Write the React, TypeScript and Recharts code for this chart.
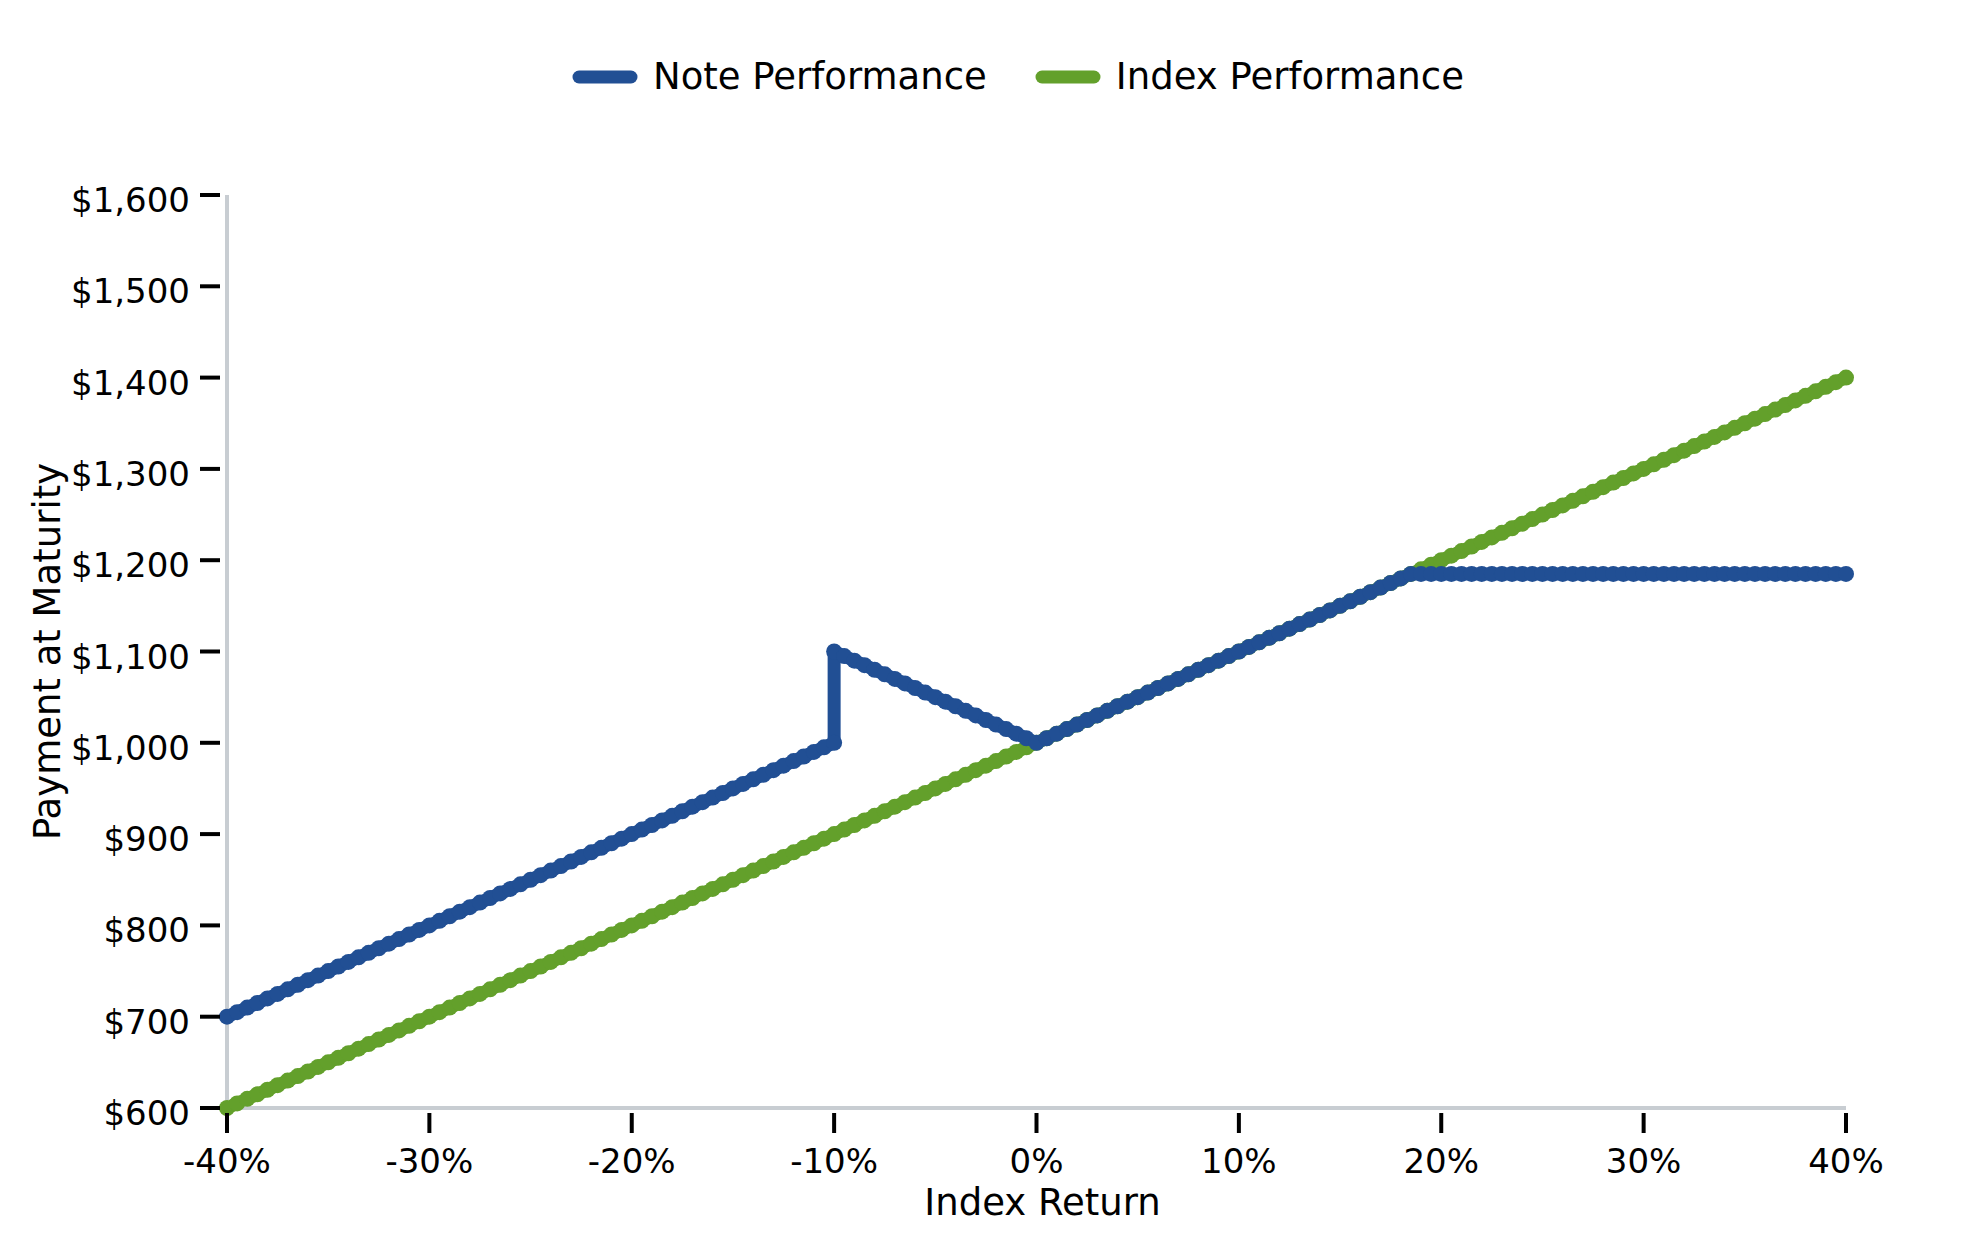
import { LineChart, Line, XAxis, YAxis, Legend, Label } from "recharts";

const FONT = "'DejaVu Sans', sans-serif";
const NOTE_COLOR = "#214f94";
const INDEX_COLOR = "#63a02b";
const AXIS_COLOR = "#c8cdd2";

// index return (%) grid shared by the index line
const returns = [
  -40, -39.5, -39, -38.5, -38, -37.5, -37, -36.5, -36, -35.5,
  -35, -34.5, -34, -33.5, -33, -32.5, -32, -31.5, -31, -30.5,
  -30, -29.5, -29, -28.5, -28, -27.5, -27, -26.5, -26, -25.5,
  -25, -24.5, -24, -23.5, -23, -22.5, -22, -21.5, -21, -20.5,
  -20, -19.5, -19, -18.5, -18, -17.5, -17, -16.5, -16, -15.5,
  -15, -14.5, -14, -13.5, -13, -12.5, -12, -11.5, -11, -10.5,
  -10, -9.5, -9, -8.5, -8, -7.5, -7, -6.5, -6, -5.5,
  -5, -4.5, -4, -3.5, -3, -2.5, -2, -1.5, -1, -0.5,
  0, 0.5, 1, 1.5, 2, 2.5, 3, 3.5, 4, 4.5,
  5, 5.5, 6, 6.5, 7, 7.5, 8, 8.5, 9, 9.5,
  10, 10.5, 11, 11.5, 12, 12.5, 13, 13.5, 14, 14.5,
  15, 15.5, 16, 16.5, 17, 17.5, 18, 18.5, 19, 19.5,
  20, 20.5, 21, 21.5, 22, 22.5, 23, 23.5, 24, 24.5,
  25, 25.5, 26, 26.5, 27, 27.5, 28, 28.5, 29, 29.5,
  30, 30.5, 31, 31.5, 32, 32.5, 33, 33.5, 34, 34.5,
  35, 35.5, 36, 36.5, 37, 37.5, 38, 38.5, 39, 39.5,
  40,
];

const indexValues = [
  600, 605, 610, 615, 620, 625, 630, 635, 640, 645,
  650, 655, 660, 665, 670, 675, 680, 685, 690, 695,
  700, 705, 710, 715, 720, 725, 730, 735, 740, 745,
  750, 755, 760, 765, 770, 775, 780, 785, 790, 795,
  800, 805, 810, 815, 820, 825, 830, 835, 840, 845,
  850, 855, 860, 865, 870, 875, 880, 885, 890, 895,
  900, 905, 910, 915, 920, 925, 930, 935, 940, 945,
  950, 955, 960, 965, 970, 975, 980, 985, 990, 995,
  1000, 1005, 1010, 1015, 1020, 1025, 1030, 1035, 1040, 1045,
  1050, 1055, 1060, 1065, 1070, 1075, 1080, 1085, 1090, 1095,
  1100, 1105, 1110, 1115, 1120, 1125, 1130, 1135, 1140, 1145,
  1150, 1155, 1160, 1165, 1170, 1175, 1180, 1185, 1190, 1195,
  1200, 1205, 1210, 1215, 1220, 1225, 1230, 1235, 1240, 1245,
  1250, 1255, 1260, 1265, 1270, 1275, 1280, 1285, 1290, 1295,
  1300, 1305, 1310, 1315, 1320, 1325, 1330, 1335, 1340, 1345,
  1350, 1355, 1360, 1365, 1370, 1375, 1380, 1385, 1390, 1395,
  1400,
];

// the note has two points at -10% (the jump)
const noteReturns = [
  -40, -39.5, -39, -38.5, -38, -37.5, -37, -36.5, -36, -35.5,
  -35, -34.5, -34, -33.5, -33, -32.5, -32, -31.5, -31, -30.5,
  -30, -29.5, -29, -28.5, -28, -27.5, -27, -26.5, -26, -25.5,
  -25, -24.5, -24, -23.5, -23, -22.5, -22, -21.5, -21, -20.5,
  -20, -19.5, -19, -18.5, -18, -17.5, -17, -16.5, -16, -15.5,
  -15, -14.5, -14, -13.5, -13, -12.5, -12, -11.5, -11, -10.5,
  -10, -10, -9.5, -9, -8.5, -8, -7.5, -7, -6.5, -6, -5.5,
  -5, -4.5, -4, -3.5, -3, -2.5, -2, -1.5, -1, -0.5,
  0, 0.5, 1, 1.5, 2, 2.5, 3, 3.5, 4, 4.5,
  5, 5.5, 6, 6.5, 7, 7.5, 8, 8.5, 9, 9.5,
  10, 10.5, 11, 11.5, 12, 12.5, 13, 13.5, 14, 14.5,
  15, 15.5, 16, 16.5, 17, 17.5, 18, 18.5, 19, 19.5,
  20, 20.5, 21, 21.5, 22, 22.5, 23, 23.5, 24, 24.5,
  25, 25.5, 26, 26.5, 27, 27.5, 28, 28.5, 29, 29.5,
  30, 30.5, 31, 31.5, 32, 32.5, 33, 33.5, 34, 34.5,
  35, 35.5, 36, 36.5, 37, 37.5, 38, 38.5, 39, 39.5,
  40,
];

const noteValues = [
  700, 705, 710, 715, 720, 725, 730, 735, 740, 745,
  750, 755, 760, 765, 770, 775, 780, 785, 790, 795,
  800, 805, 810, 815, 820, 825, 830, 835, 840, 845,
  850, 855, 860, 865, 870, 875, 880, 885, 890, 895,
  900, 905, 910, 915, 920, 925, 930, 935, 940, 945,
  950, 955, 960, 965, 970, 975, 980, 985, 990, 995,
  1000, 1100, 1095, 1090, 1085, 1080, 1075, 1070, 1065, 1060, 1055,
  1050, 1045, 1040, 1035, 1030, 1025, 1020, 1015, 1010, 1005,
  1000, 1005, 1010, 1015, 1020, 1025, 1030, 1035, 1040, 1045,
  1050, 1055, 1060, 1065, 1070, 1075, 1080, 1085, 1090, 1095,
  1100, 1105, 1110, 1115, 1120, 1125, 1130, 1135, 1140, 1145,
  1150, 1155, 1160, 1165, 1170, 1175, 1180, 1185, 1185, 1185,
  1185, 1185, 1185, 1185, 1185, 1185, 1185, 1185, 1185, 1185,
  1185, 1185, 1185, 1185, 1185, 1185, 1185, 1185, 1185, 1185,
  1185, 1185, 1185, 1185, 1185, 1185, 1185, 1185, 1185, 1185,
  1185, 1185, 1185, 1185, 1185, 1185, 1185, 1185, 1185, 1185,
  1185,
];

const xTicks = [-40, -30, -20, -10, 0, 10, 20, 30, 40];
const yTicks = [600, 700, 800, 900, 1000, 1100, 1200, 1300, 1400, 1500, 1600];

const indexData = returns.map((r, i) => ({ ret: r, value: indexValues[i] }));
const noteData = noteReturns.map((r, i) => ({ ret: r, value: noteValues[i] }));

const legendItems = [
  { name: "Note Performance", color: NOTE_COLOR },
  { name: "Index Performance", color: INDEX_COLOR },
];

function formatDollar(v: number): string {
  if (v >= 1000) {
    return `$${Math.floor(v / 1000)},${String(v % 1000).padStart(3, "0")}`;
  }
  return `$${v}`;
}

function YTick({ x, y, payload }: any) {
  return (
    <g>
      <line x1={x - 27} x2={x - 7} y1={y} y2={y} stroke="#000" strokeWidth={4} />
      <text x={x - 37} y={y} dy={17} textAnchor="end" fontSize={34} fontFamily={FONT} fill="#000">
        {formatDollar(payload.value)}
      </text>
    </g>
  );
}

function XTick({ x, y, payload }: any) {
  return (
    <g>
      <line x1={x} x2={x} y1={y + 5} y2={y + 25} stroke="#000" strokeWidth={4} />
      <text x={x} y={y + 65} textAnchor="middle" fontSize={34} fontFamily={FONT} fill="#000">
        {`${payload.value}%`}
      </text>
    </g>
  );
}

function XTitle({ viewBox }: any) {
  return (
    <text
      x={viewBox.x + viewBox.width / 2 + 6}
      y={viewBox.y + 107}
      textAnchor="middle"
      fontSize={37}
      fontFamily={FONT}
      fill="#000"
    >
      Index Return
    </text>
  );
}

function YTitle({ viewBox }: any) {
  const tx = viewBox.x + viewBox.width - 167;
  const ty = viewBox.y + viewBox.height / 2;
  return (
    <text
      x={tx}
      y={ty}
      transform={`rotate(-90 ${tx} ${ty})`}
      textAnchor="middle"
      fontSize={37}
      fontFamily={FONT}
      fill="#000"
    >
      Payment at Maturity
    </text>
  );
}

function ChartLegend() {
  return (
    <div
      style={{
        display: "flex",
        alignItems: "center",
        marginLeft: 572,
        fontFamily: FONT,
        fontSize: 37,
        lineHeight: "43px",
        color: "#000",
      }}
    >
      {legendItems.map((item, i) => (
        <div key={item.name} style={{ display: "flex", alignItems: "center", marginLeft: i === 0 ? 0 : 48 }}>
          <svg width={66} height={16} style={{ display: "block" }}>
            <line x1={7} x2={59} y1={8} y2={8} stroke={item.color} strokeWidth={13} strokeLinecap="round" />
          </svg>
          <span style={{ marginLeft: 15, whiteSpace: "nowrap" }}>{item.name}</span>
        </div>
      ))}
    </div>
  );
}

export default function App() {
  return (
    <div style={{ position: "absolute", top: 0, left: 0, width: 1979, height: 1250, background: "#fff" }}>
      <LineChart width={1979} height={1250} margin={{ top: 195, right: 133, bottom: 82, left: 127 }}>
        <XAxis
          type="number"
          dataKey="ret"
          domain={[-40, 40]}
          ticks={xTicks}
          height={60}
          tickSize={0}
          tickMargin={0}
          tickLine={false}
          tick={<XTick />}
          axisLine={{ stroke: AXIS_COLOR, strokeWidth: 4 }}
          interval={0}
        >
          <Label content={<XTitle />} />
        </XAxis>
        <YAxis
          type="number"
          domain={[600, 1600]}
          ticks={yTicks}
          width={100}
          tickSize={0}
          tickMargin={0}
          tickLine={false}
          tick={<YTick />}
          axisLine={{ stroke: AXIS_COLOR, strokeWidth: 4 }}
          interval={0}
        >
          <Label content={<YTitle />} />
        </YAxis>
        <Legend
          verticalAlign="middle"
          align="center"
          layout="horizontal"
          content={<ChartLegend />}
          wrapperStyle={{ top: 55, left: 0, width: 1979 }}
        />
        <Line
          data={indexData}
          dataKey="value"
          name="Index Performance"
          type="linear"
          stroke={INDEX_COLOR}
          strokeWidth={13}
          strokeLinejoin="round"
          dot={{ r: 8, fill: INDEX_COLOR, stroke: "none" }}
          activeDot={false}
          isAnimationActive={false}
        />
        <Line
          data={noteData}
          dataKey="value"
          name="Note Performance"
          type="linear"
          stroke={NOTE_COLOR}
          strokeWidth={13}
          strokeLinejoin="round"
          dot={{ r: 8, fill: NOTE_COLOR, stroke: "none" }}
          activeDot={false}
          isAnimationActive={false}
        />
      </LineChart>
    </div>
  );
}
